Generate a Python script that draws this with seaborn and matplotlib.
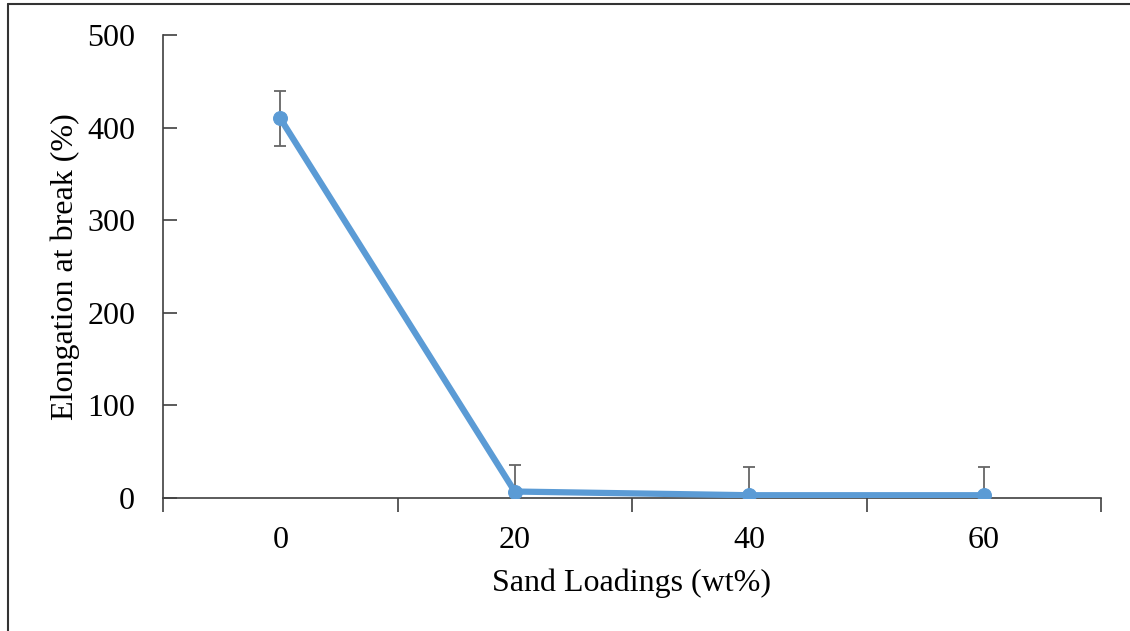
import matplotlib
matplotlib.use("Agg")
import matplotlib.pyplot as plt
import seaborn as sns
import pandas as pd
import numpy as np
from matplotlib.lines import Line2D

# Elongation at break vs. sand loading
loadings = ["0", "20", "40", "60"]
elongation = [410, 7, 3, 3]
elongation_err = [30, 29, 30, 30]

sns.set_theme(style="white")
plt.rcParams["font.family"] = ["Liberation Serif", "DejaVu Serif"]

df = pd.DataFrame({"loading": loadings, "elongation": elongation, "err": elongation_err})

fig = plt.figure(figsize=(11.30, 6.31), dpi=100)
ax = fig.add_axes([163 / 1130, 133 / 631, (1101 - 163) / 1130, (498 - 35) / 631])

blue = "#5B9BD5"
x = np.arange(len(loadings))

# Error bars (clipped at the axis floor)
ax.errorbar(x, df["elongation"], yerr=df["err"], fmt="none", ecolor="#666666",
            elinewidth=1.3, capsize=4, capthick=1.3, zorder=2)

sns.lineplot(data=df, x="loading", y="elongation", ax=ax, color=blue,
             linewidth=4.5, marker="o", markersize=10, markeredgecolor=blue,
             sort=False, zorder=3)

ax.set_xlim(-0.5, len(loadings) - 0.5)
ax.set_ylim(0, 500)
ax.set_yticks([0, 100, 200, 300, 400, 500])

# Category labels centred, tick marks between categories
ax.set_xticks(x)
ax.set_xticklabels(loadings)
ax.set_xticks(np.arange(-0.5, len(loadings)), minor=True)
ax.tick_params(axis="x", which="major", length=0, pad=20, labelsize=23, colors="black")
ax.tick_params(axis="x", which="minor", length=10, width=1.2, direction="out",
               color="#404040", bottom=True)
ax.tick_params(axis="y", which="major", length=10, width=1.2, direction="in",
               color="#404040", left=True, pad=20, labelsize=23, labelcolor="black")

for side in ["top", "right"]:
    ax.spines[side].set_visible(False)
for side in ["left", "bottom"]:
    ax.spines[side].set_color("#404040")
    ax.spines[side].set_linewidth(1.2)

ax.set_xlabel("Sand Loadings (wt%)", fontsize=23, color="black", labelpad=10)
ax.set_ylabel("Elongation at break (%)", fontsize=23, color="black", labelpad=5)
ax.grid(False)

# Frame lines along the top and left of the figure
fig.add_artist(Line2D([8 / 1130, 1.0], [1 - 4 / 631, 1 - 4 / 631],
                      transform=fig.transFigure, color="#333333", linewidth=1.5))
fig.add_artist(Line2D([8 / 1130, 8 / 1130], [0, 1 - 4 / 631],
                      transform=fig.transFigure, color="#333333", linewidth=1.5))

fig.savefig("out.png", dpi=100, facecolor="white")
